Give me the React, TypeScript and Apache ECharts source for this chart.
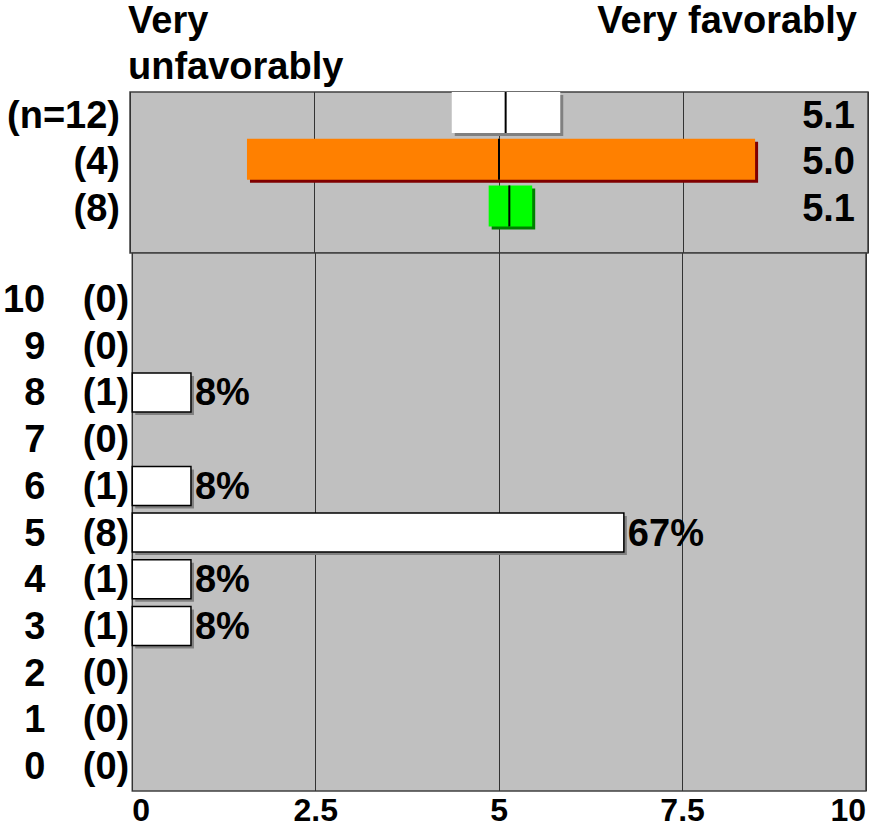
import React, { useEffect, useRef } from 'react';
import * as echarts from 'echarts';

// Summary rows (top panel)
const groupLabels = ['(n=12)', '(4)', '(8)'];
const groupLows = [4.36, 1.585, 4.86];
const groupHighs = [5.83, 8.47, 5.45];
const groupMeans = [5.09, 5.0, 5.14];
const groupColors = ['#ffffff', '#ff8000', '#00ff00'];
const groupShadows = ['#808080', '#800000', '#008000'];

// Histogram (bottom panel)
const scores = [0, 1, 2, 3, 4, 5, 6, 7, 8, 9, 10];
const counts = [0, 0, 0, 1, 1, 8, 1, 0, 1, 0, 0];
const total = 12;

const leftTitle = 'Very\nunfavorably';
const rightTitle = 'Very favorably';

const FONT = '"Liberation Sans", Arial, sans-serif';
const FS = 38;

export default function App() {
  const ref = useRef<HTMLDivElement>(null);
  useEffect(() => {
    if (!ref.current) return;
    const chart = echarts.init(ref.current, undefined, { renderer: 'svg' });
    const txt = { fontFamily: FONT, fontSize: FS, fontWeight: 'bold' as const, color: '#000' };
    const splitLine = { show: true, lineStyle: { color: '#333', width: 1 } };
    const option: any = {
      animation: false,
      backgroundColor: '#fff',
      textStyle: { fontFamily: FONT },
      title: [
        { text: leftTitle, left: 128, top: -3, padding: 0, textStyle: { ...txt, lineHeight: 46 } },
        { text: rightTitle, right: 12, top: -3, padding: 0, textStyle: { ...txt, lineHeight: 46 } },
      ],
      grid: [
        { left: 130, width: 738, top: 92, height: 161, show: true, backgroundColor: '#c0c0c0', borderColor: '#404040', borderWidth: 1.5 },
        { left: 130, width: 738, top: 253, height: 538, show: true, backgroundColor: '#c0c0c0', borderColor: '#404040', borderWidth: 1.5 },
      ],
      xAxis: [
        {
          gridIndex: 0, type: 'value', min: 0, max: 10, interval: 2.5,
          axisLabel: { show: false }, axisLine: { show: false }, axisTick: { show: false }, splitLine,
        },
        {
          gridIndex: 1, type: 'value', min: 0, max: 10, interval: 2.5,
          axisLabel: { show: true, ...txt, fontSize: 32, lineHeight: 32, margin: 3, alignMinLabel: 'left', alignMaxLabel: 'right', formatter: (v: number) => String(v) },
          axisLine: { show: false }, axisTick: { show: false }, splitLine,
        },
      ],
      yAxis: [
        {
          gridIndex: 0, type: 'value', inverse: true, min: -0.482, max: 2.966,
          splitLine: { show: false }, axisLine: { show: false }, axisTick: { show: false },
          axisLabel: { ...txt, margin: 10, customValues: [0, 1, 2], formatter: (v: number) => groupLabels[Math.round(v)] },
        },
        {
          gridIndex: 1, type: 'value', min: -0.533, max: 10.987,
          splitLine: { show: false }, axisLine: { show: false }, axisTick: { show: false },
          axisLabel: {
            margin: 3, customValues: scores,
            formatter: (v: number) => `{a|${v}}{b|(${counts[Math.round(v)]})}`,
            rich: {
              a: { ...txt, width: 43, align: 'right' },
              b: { ...txt, width: 84, align: 'right' },
            },
          },
        },
      ],
      series: [
        {
          type: 'custom', xAxisIndex: 0, yAxisIndex: 0,
          data: groupLabels.map((_, i) => [i, groupLows[i], groupHighs[i], groupMeans[i]]),
          renderItem: (params: any, api: any) => {
            const i = api.value(0);
            const lo = api.coord([api.value(1), i]);
            const hi = api.coord([api.value(2), i]);
            const mean = api.coord([api.value(3), i]);
            const right = api.coord([10, i]);
            const h = 41;
            const top = lo[1] - 2 - h / 2;
            return {
              type: 'group',
              children: [
                { type: 'rect', shape: { x: lo[0] + 3, y: top + 3, width: hi[0] - lo[0], height: h }, style: { fill: groupShadows[i] } },
                { type: 'rect', shape: { x: lo[0], y: top, width: hi[0] - lo[0], height: h }, style: { fill: groupColors[i] } },
                { type: 'line', shape: { x1: mean[0], y1: top, x2: mean[0], y2: top + h }, style: { stroke: '#000', lineWidth: 2 } },
                {
                  type: 'text', x: right[0] - 13, y: lo[1],
                  style: { text: api.value(3).toFixed(1), fill: '#000', fontFamily: FONT, fontSize: FS, fontWeight: 'bold', align: 'right', verticalAlign: 'middle' },
                },
              ],
            };
          },
        },
        {
          type: 'custom', xAxisIndex: 1, yAxisIndex: 1,
          data: scores.map((s, i) => [s, counts[i]]),
          renderItem: (params: any, api: any) => {
            const s = api.value(0);
            const c = api.value(1);
            if (!c) return { type: 'group', children: [] };
            const pct = Math.round((c / total) * 100);
            const start = api.coord([0, s]);
            const end = api.coord([pct / 10, s]);
            const h = 39;
            const top = start[1] - h / 2;
            return {
              type: 'group',
              children: [
                { type: 'rect', shape: { x: start[0] + 3, y: top + 3, width: end[0] - start[0], height: h }, style: { fill: '#808080' } },
                { type: 'rect', shape: { x: start[0], y: top, width: end[0] - start[0], height: h }, style: { fill: '#fff', stroke: '#000', lineWidth: 1.5 } },
                {
                  type: 'text', x: end[0] + 4, y: start[1],
                  style: { text: `${pct}%`, fill: '#000', fontFamily: FONT, fontSize: FS, fontWeight: 'bold', align: 'left', verticalAlign: 'middle' },
                },
              ],
            };
          },
        },
      ],
    };
    chart.setOption(option);
    return () => chart.dispose();
  }, []);
  return <div ref={ref} style={{ position: 'absolute', left: 0, top: 0, width: 869, height: 827 }} />;
}
